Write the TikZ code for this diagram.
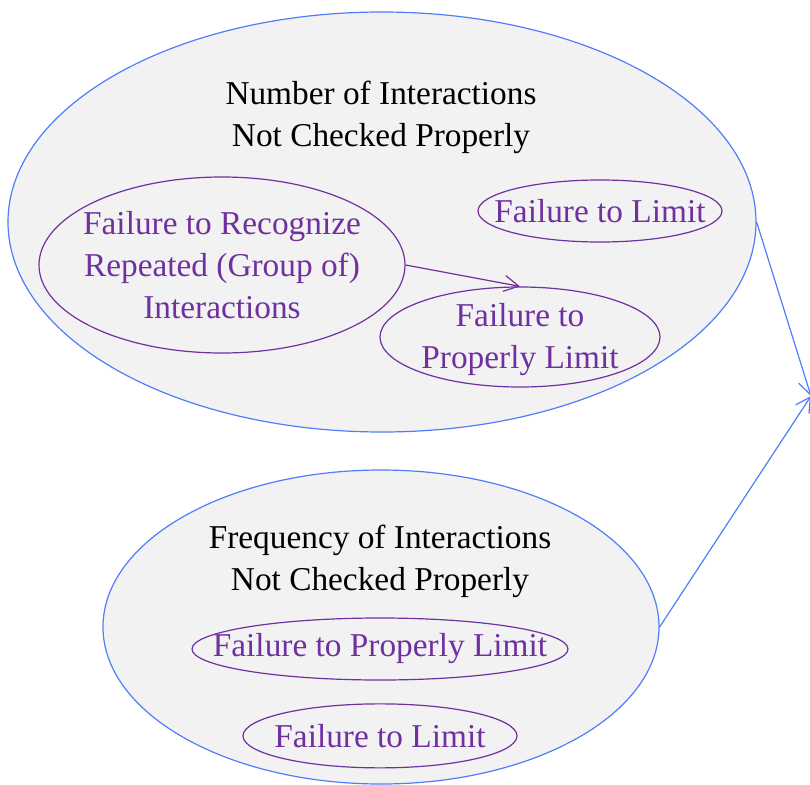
\documentclass[tikz,border=0pt]{standalone}
\usepackage{fontspec}
\setmainfont{Liberation Serif}
\usetikzlibrary{shapes.geometric, positioning, arrows.meta}
\definecolor{lineblue}{RGB}{80,125,250}
\definecolor{failpurple}{RGB}{112,48,160}
\definecolor{groupgray}{RGB}{242,242,242}

\begin{document}
\begin{tikzpicture}[
    x=0.75pt, y=-0.75pt,
    every node/.style={font=\fontsize{25}{31.5}\selectfont, inner sep=0pt, align=center}, % one size for all texts
    group/.style={ellipse, draw=lineblue, fill=groupgray, line width=0.9pt},
    fail/.style={ellipse, draw=failpurple, line width=0.9pt},
    failtext/.style={text=failpurple},
    barb/.style={-{Straight Barb[length=11pt,width=12pt]}, line width=0.9pt}
]
\useasboundingbox (0,0) rectangle (810,785);
\clip (0,0) rectangle (810,785);
% draw the two groups
\node[group, minimum width=561pt, minimum height=315pt] (num) at (382,222) {};
\node[group, minimum width=417pt, minimum height=235.5pt] (freq) at (381,627) {};
\node (num_t) at (381,117) {Number of Interactions\\Not Checked Properly};
\node (freq_t) at (380,561) {Frequency of Interactions\\Not Checked Properly};
% draw the failures (text as centre label, so the ellipse keeps its size)
\node[fail, minimum width=274.5pt, minimum height=132pt,
    label={[failtext]center:Failure to Recognize\\Repeated (Group of)\\Interactions}] (rep) at (222,265) {};
\node[fail, minimum width=183pt, minimum height=46.5pt,
    label={[failtext]center:Failure to Limit}] (lim_a) at (600,211) {};
\node[fail, minimum width=210pt, minimum height=75pt,
    label={[failtext, yshift=-2pt]center:Failure to\\Properly Limit}] (prop_a) at (520,337) {};
\node[fail, minimum width=282pt, minimum height=46.5pt,
    label={[failtext]center:Failure to Properly Limit}] (prop_b) at (380,649) {};
\node[fail, minimum width=205.5pt, minimum height=48pt,
    label={[failtext]center:Failure to Limit}] (lim_b) [below=17pt of prop_b] {};
% draw the edges
\coordinate (out) at (811,396);
\draw[barb, failpurple] (rep.east) -- (prop_a.north);
\draw[barb, lineblue] (num.east) -- (out);
\draw[barb, lineblue] (freq.east) -- (out);
\end{tikzpicture}
\end{document}
